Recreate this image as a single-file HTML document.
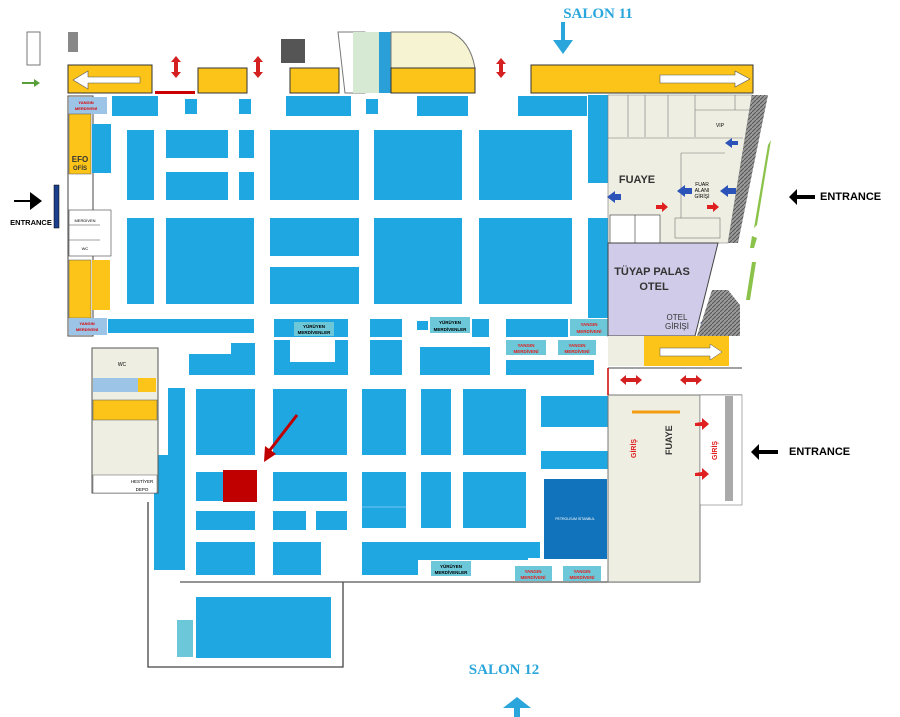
<!DOCTYPE html>
<html><head><meta charset="utf-8"><style>
html,body{margin:0;padding:0;background:#fff;width:900px;height:717px;overflow:hidden}
svg{display:block;font-family:"Liberation Sans",sans-serif}
</style></head><body>
<svg width="900" height="717" viewBox="0 0 900 717" xmlns="http://www.w3.org/2000/svg">
<defs>
<pattern id="hatch" width="4" height="4" patternUnits="userSpaceOnUse"><rect width="4" height="4" fill="#9a9a9a"/><path d="M0 4L4 0" stroke="#555" stroke-width="1"/></pattern>
</defs>
<!-- top stuff -->
<rect x="27" y="32" width="13" height="33" fill="#fff" stroke="#777"/>
<rect x="68" y="32" width="10" height="20" fill="#888"/>
<rect x="281" y="39" width="24" height="24" fill="#555"/>
<path d="M338 32 L365 32 L365 93 L345 93Z" fill="#fff" stroke="#777"/>
<rect x="353" y="32" width="26" height="61" fill="#d6ead3"/>
<rect x="379" y="32" width="12" height="61" fill="#2a9fd8"/>
<path d="M391 93 L391 32 L450 32 Q470 40 475 68 L475 93Z" fill="#f6f3d2" stroke="#777"/>
<!-- ramps -->
<rect x="68" y="65" width="84" height="28" fill="#fcc419" stroke="#333"/>
<path d="M73 80 L88 71 L88 77 L140 77 L140 83 L88 83 L88 89Z" fill="#fff" stroke="#555" stroke-width=".6"/>
<rect x="198" y="68" width="49" height="25" fill="#fcc419" stroke="#333"/>
<rect x="290" y="68" width="49" height="25" fill="#fcc419" stroke="#333"/>
<rect x="391" y="68" width="84" height="25" fill="#fcc419" stroke="#333"/>
<rect x="531" y="65" width="222" height="28" fill="#fcc419" stroke="#333"/>
<path d="M660 75 L735 75 L735 71 L750 79 L735 87 L735 83 L660 83Z" fill="#fff" stroke="#555" stroke-width=".6"/>
<rect x="155" y="91" width="40" height="3" fill="#c00"/>
<g fill="#d42020">
<path d="M176 56 L171 62 L174 62 L174 72 L171 72 L176 78 L181 72 L178 72 L178 62 L181 62Z"/>
<path d="M258 56 L253 62 L256 62 L256 72 L253 72 L258 78 L263 72 L260 72 L260 62 L263 62Z"/>
<path d="M501 58 L496 64 L499 64 L499 72 L496 72 L501 78 L506 72 L503 72 L503 64 L506 64Z"/>
<path d="M620 380 L626 375 L626 378 L636 378 L636 375 L642 380 L636 385 L636 382 L626 382 L626 385Z"/>
<path d="M680 380 L686 375 L686 378 L696 378 L696 375 L702 380 L696 385 L696 382 L686 382 L686 385Z"/>
</g>
<path d="M22 82 L34 82 L34 79 L40 83 L34 87 L34 84 L22 84Z" fill="#5aa03a"/>
<text x="598" y="18" style="font-family:'Liberation Serif',serif" font-weight="bold" font-size="15" fill="#2aa6dc" text-anchor="middle">SALON 11</text>
<path d="M561 22 L565 22 L565 40 L573 40 L563 54 L553 40 L561 40Z" fill="#2aa6dc"/>
<!-- left block -->
<rect x="68" y="96" width="25" height="240" fill="#fff" stroke="#444"/>
<rect x="69" y="97" width="38" height="17" fill="#9cc4e6"/>
<text x="86" y="104" font-size="4" fill="#d00" text-anchor="middle" font-weight="bold">YANGIN</text>
<text x="86" y="110" font-size="4" fill="#d00" text-anchor="middle" font-weight="bold">MERDİVENİ</text>
<rect x="69" y="114" width="22" height="60" fill="#fcc419" stroke="#555" stroke-width=".5"/>
<text x="80" y="162" font-size="8" font-weight="bold" text-anchor="middle" fill="#333">EFO</text>
<text x="80" y="170" font-size="6" font-weight="bold" text-anchor="middle" fill="#333">OFİS</text>
<rect x="92" y="124" width="19" height="49" fill="#1ea7e0"/>
<rect x="69" y="260" width="22" height="58" fill="#fcc419" stroke="#555" stroke-width=".5"/>
<rect x="92" y="260" width="18" height="50" fill="#fcc419"/>
<rect x="69" y="318" width="38" height="17" fill="#9cc4e6"/>
<text x="87" y="325" font-size="4" fill="#d00" text-anchor="middle" font-weight="bold">YANGIN</text>
<text x="87" y="331" font-size="4" fill="#d00" text-anchor="middle" font-weight="bold">MERDİVENİ</text>
<rect x="69" y="210" width="42" height="46" fill="#fff" stroke="#444" stroke-width=".6"/>
<line x1="69" y1="225" x2="100" y2="225" stroke="#444" stroke-width=".6"/>
<line x1="69" y1="240" x2="100" y2="240" stroke="#444" stroke-width=".6"/>
<text x="85" y="222" font-size="4" text-anchor="middle">MERDİVEN</text>
<text x="85" y="250" font-size="4" text-anchor="middle">WC</text>
<path d="M14 200 L30 200 L30 192 L42 201 L30 210 L30 202 L14 202Z" fill="#000"/>
<rect x="54" y="185" width="5" height="43" fill="#1c3f8c" stroke="#000" stroke-width=".5"/>
<text x="31" y="225" font-size="7.5" font-weight="bold" text-anchor="middle">ENTRANCE</text>
<!-- booths -->
<g fill="#1ea7e0">
<rect x="112" y="96" width="46" height="20"/><rect x="185" y="99" width="12" height="15"/><rect x="239" y="99" width="12" height="15"/>
<rect x="286" y="96" width="65" height="20"/><rect x="366" y="99" width="12" height="15"/><rect x="417" y="96" width="51" height="20"/>
<rect x="518" y="96" width="69" height="20"/><rect x="588" y="95" width="20" height="88"/><rect x="588" y="218" width="20" height="100"/>
<rect x="127" y="130" width="27" height="70"/><rect x="166" y="130" width="62" height="28"/><rect x="166" y="172" width="62" height="28"/>
<rect x="239" y="130" width="15" height="28"/><rect x="239" y="172" width="15" height="28"/>
<rect x="270" y="130" width="89" height="70"/><rect x="374" y="130" width="88" height="70"/><rect x="479" y="130" width="93" height="70"/>
<rect x="127" y="218" width="27" height="86"/><rect x="166" y="218" width="88" height="86"/>
<rect x="270" y="218" width="89" height="38"/><rect x="270" y="267" width="89" height="37"/>
<rect x="374" y="218" width="88" height="86"/><rect x="479" y="218" width="93" height="86"/>
<rect x="108" y="319" width="146" height="14"/><rect x="274" y="319" width="74" height="18"/><rect x="370" y="319" width="32" height="18"/>
<rect x="417" y="321" width="11" height="9"/><rect x="472" y="319" width="17" height="18"/><rect x="506" y="319" width="62" height="18"/>
<path d="M189 354 L231 354 L231 343 L255 343 L255 375 L189 375Z"/>
<path d="M274 340 L348 340 L348 375 L274 375 L274 340 M290 340 L290 362 L335 362 L335 340Z" fill-rule="evenodd"/>
<rect x="370" y="340" width="32" height="35"/><rect x="420" y="347" width="70" height="28"/><rect x="506" y="360" width="88" height="15"/>
<rect x="168" y="388" width="17" height="67"/><rect x="154" y="455" width="31" height="115"/>
<rect x="196" y="389" width="59" height="66"/><rect x="273" y="389" width="74" height="66"/><rect x="362" y="389" width="44" height="66"/>
<rect x="421" y="389" width="30" height="66"/><rect x="463" y="389" width="63" height="66"/><rect x="541" y="396" width="67" height="31"/>
<rect x="196" y="472" width="59" height="29"/><rect x="273" y="472" width="74" height="29"/><rect x="362" y="472" width="44" height="56"/>
<rect x="421" y="472" width="30" height="56"/><rect x="463" y="472" width="63" height="56"/><rect x="541" y="451" width="67" height="18"/>
<rect x="196" y="511" width="59" height="19"/><rect x="273" y="511" width="33" height="19"/><rect x="316" y="511" width="31" height="19"/>
<rect x="196" y="542" width="59" height="33"/><rect x="273" y="542" width="48" height="33"/>
<path d="M362 542 L540 542 L540 558 L528 558 L528 560 L418 560 L418 575 L362 575Z"/>
<rect x="196" y="597" width="135" height="61"/>
</g>
<line x1="362" y1="507" x2="406" y2="507" stroke="#8fd0ef" stroke-width=".7"/>
<rect x="544" y="479" width="63" height="80" fill="#1173bb"/>
<text x="575" y="520" font-size="3.5" fill="#fff" text-anchor="middle">PETROLEUM İSTANBUL</text>
<g fill="#6cc7d8">
<rect x="294" y="322" width="40" height="14"/><rect x="430" y="317" width="40" height="16"/>
<rect x="570" y="319" width="38" height="17"/><rect x="506" y="340" width="40" height="15"/><rect x="558" y="340" width="38" height="15"/>
<rect x="431" y="561" width="40" height="15"/><rect x="515" y="566" width="37" height="15"/><rect x="563" y="566" width="38" height="15"/>
<rect x="177" y="620" width="16" height="37"/>
</g>
<g font-size="4.5" font-weight="bold" text-anchor="middle">
<text x="314" y="328">YÜRÜYEN</text><text x="314" y="334">MERDİVENLER</text>
<text x="450" y="324">YÜRÜYEN</text><text x="450" y="331">MERDİVENLER</text>
<text x="451" y="568">YÜRÜYEN</text><text x="451" y="574">MERDİVENLER</text>
</g>
<g font-size="4.5" font-weight="bold" text-anchor="middle" fill="#e02020">
<text x="589" y="326">YANGIN</text><text x="589" y="333">MERDİVENİ</text>
<text x="526" y="347">YANGIN</text><text x="526" y="353">MERDİVENİ</text>
<text x="577" y="347">YANGIN</text><text x="577" y="353">MERDİVENİ</text>
<text x="533" y="573">YANGIN</text><text x="533" y="579">MERDİVENİ</text>
<text x="582" y="573">YANGIN</text><text x="582" y="579">MERDİVENİ</text>
</g>
<rect x="92" y="348" width="66" height="145" fill="#eeeee2" stroke="#555"/>
<text x="122" y="366" font-size="5" text-anchor="middle">WC</text>
<rect x="93" y="378" width="45" height="14" fill="#9cc4e6"/>
<rect x="138" y="378" width="18" height="14" fill="#fcc419"/>
<rect x="93" y="400" width="64" height="20" fill="#fcc419" stroke="#555" stroke-width=".5"/>
<rect x="93" y="475" width="64" height="18" fill="#fff" stroke="#555" stroke-width=".5"/>
<text x="142" y="483" font-size="4.5" text-anchor="middle">HESTİYER</text>
<text x="142" y="491" font-size="4.5" text-anchor="middle">DEPO</text>
<path d="M148 502 L148 667 L343 667 L343 582" fill="none" stroke="#444" stroke-width="1.3"/>
<line x1="180" y1="582" x2="700" y2="582" stroke="#555" stroke-width="1.3"/>
<!-- right foyer -->
<path d="M608 95 L752 95 L728 243 L608 243Z" fill="#eeeee2" stroke="#777" stroke-width=".6"/>
<path d="M752 95 L768 95 L738 243 L728 243Z" fill="url(#hatch)"/>
<g stroke="#777" stroke-width=".6" fill="none">
<line x1="628" y1="95" x2="628" y2="137"/><line x1="645" y1="95" x2="645" y2="137"/><line x1="668" y1="95" x2="668" y2="137"/><line x1="695" y1="95" x2="695" y2="137"/>
<line x1="735" y1="95" x2="735" y2="110"/>
<line x1="695" y1="110" x2="749" y2="110"/><line x1="608" y1="138" x2="743" y2="138"/>
<path d="M681 153 L681 225 M681 153 L725 153"/>
<rect x="610" y="215" width="50" height="28" fill="#fff" stroke="#333"/>
<line x1="635" y1="215" x2="635" y2="243" stroke="#333"/>
<rect x="675" y="218" width="45" height="20" fill="#eeeee2"/>
</g>
<text x="637" y="183" font-size="11" font-weight="bold" text-anchor="middle" fill="#333">FUAYE</text>
<text x="702" y="186" font-size="5" text-anchor="middle">FUAR</text>
<text x="702" y="192" font-size="5" text-anchor="middle">ALANI</text>
<text x="702" y="198" font-size="5" text-anchor="middle">GİRİŞİ</text>
<text x="720" y="127" font-size="5" text-anchor="middle">VIP</text>
<g fill="#2c54b8">
<path d="M725 143 L732 138 L732 141 L738 141 L738 145 L732 145 L732 148Z"/>
<path d="M720 191 L728 185 L728 188 L736 188 L736 194 L728 194 L728 197Z"/>
<path d="M677 191 L685 185 L685 188 L692 188 L692 194 L685 194 L685 197Z"/>
<path d="M607 197 L615 191 L615 194 L621 194 L621 200 L615 200 L615 203Z"/>
<path d="M700 323 L708 317 L708 320 L716 320 L716 326 L708 326 L708 329Z"/>
<path d="M624 440 L632 434 L632 437 L638 437 L638 443 L632 443 L632 446Z"/>
<path d="M693 450 L701 444 L701 447 L707 447 L707 453 L701 453 L701 456Z"/>
</g>
<g fill="#e02020">
<path d="M656 207 L656 209 L662 209 L662 212 L668 207 L662 202 L662 205 L656 205Z"/>
<path d="M707 207 L707 209 L713 209 L713 212 L719 207 L713 202 L713 205 L707 205Z"/>
</g>
<g fill="#8bc34a"><path d="M768 145 L771 140 L757 225 L754 228Z"/><path d="M752 236 L757 238 L754 248 L750 248Z"/><path d="M752 262 L756 262 L750 300 L746 300Z"/></g>
<path d="M608 243 L718 243 L695 336 L608 336Z" fill="#cfcbe8" stroke="#444"/>
<path d="M712 290 L728 290 L740 305 L740 336 L697 336Z" fill="url(#hatch)"/>
<text x="652" y="275" font-size="11" font-weight="bold" text-anchor="middle" fill="#333">TÜYAP PALAS</text>
<text x="654" y="290" font-size="11" font-weight="bold" text-anchor="middle" fill="#333">OTEL</text>
<text x="677" y="320" font-size="8" text-anchor="middle" fill="#333">OTEL</text>
<text x="677" y="329" font-size="8" text-anchor="middle" fill="#333">GİRİŞİ</text>
<rect x="608" y="336" width="36" height="30" fill="#eeeee2"/>
<rect x="644" y="336" width="85" height="30" fill="#fcc419"/>
<path d="M660 348 L710 348 L710 344 L722 352 L710 360 L710 356 L660 356Z" fill="#fff" stroke="#555" stroke-width=".5"/>
<line x1="608" y1="368" x2="742" y2="368" stroke="#444"/>
<line x1="608" y1="395" x2="742" y2="395" stroke="#444"/>
<path d="M608 395 L700 395 L700 582 L608 582Z" fill="#eeeee2" stroke="#777"/>
<rect x="700" y="395" width="42" height="110" fill="#fff" stroke="#777" stroke-width=".6"/>
<rect x="725" y="396" width="8" height="105" fill="#aaa"/>
<path d="M632 412 L680 412" stroke="#f39c12" stroke-width="3"/>
<text x="672" y="455" font-size="9" font-weight="bold" fill="#333" transform="rotate(-90 672 455)">FUAYE</text>
<text x="636" y="458" font-size="7" font-weight="bold" fill="#e02020" transform="rotate(-90 636 458)">GİRİŞ</text>
<text x="717" y="460" font-size="7" font-weight="bold" fill="#e02020" transform="rotate(-90 717 460)">GİRİŞ</text>
<g fill="#e02020"><path d="M695 423 L695 426 L702 426 L702 430 L709 424 L702 418 L702 422 Z"/><path d="M695 473 L695 476 L702 476 L702 480 L709 474 L702 468 L702 472Z"/></g>
<path d="M608 368 L608 395" stroke="#c00" stroke-width="1.5"/>
<path d="M789 197 L797 189 L797 195 L815 195 L815 199 L797 199 L797 205Z" fill="#000"/>
<text x="820" y="200" font-size="11" font-weight="bold">ENTRANCE</text>
<path d="M751 452 L759 444 L759 450 L778 450 L778 454 L759 454 L759 460Z" fill="#000"/>
<text x="789" y="455" font-size="11" font-weight="bold">ENTRANCE</text>
<rect x="223" y="470" width="34" height="32" fill="#c00000"/>
<path d="M297 415 L270 450" stroke="#c00000" stroke-width="3"/>
<path d="M264 462 L265 446 L276 454Z" fill="#c00000"/>
<text x="504" y="674" style="font-family:'Liberation Serif',serif" font-weight="bold" font-size="15" fill="#2aa6dc" text-anchor="middle">SALON 12</text>
<path d="M517 697 L503 708 L514 708 L514 717 L520 717 L520 708 L531 708Z" fill="#2aa6dc"/>
</svg>
</body></html>
